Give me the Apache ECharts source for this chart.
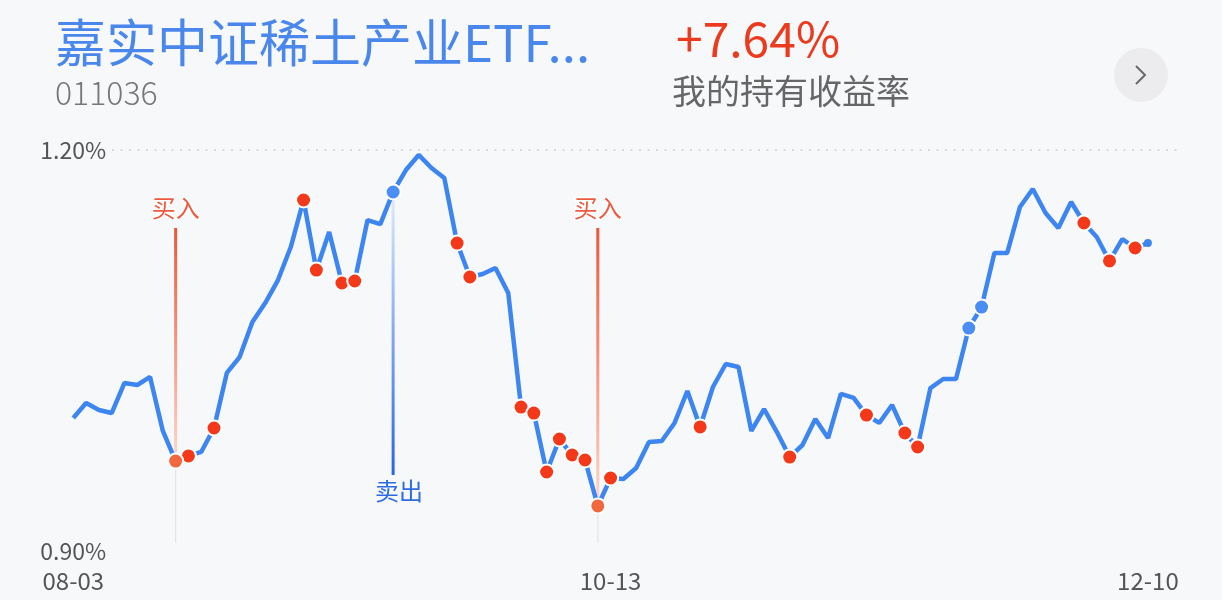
<!DOCTYPE html>
<html>
<head>
<meta charset="utf-8">
<script src="https://cdn.jsdelivr.net/npm/echarts@6/dist/echarts.min.js"></script>
<style>
html,body{margin:0;padding:0;background:#f7f8fa;}
#main{width:1222px;height:600px;}
</style>
</head>
<body>
<div id="main"></div>
<script>
// ---- data ----
const fundName = '嘉实中证稀土产业ETF...';
const fundCode = '011036';
const holdReturn = '+7.64%';
const holdReturnLabel = '我的持有收益率';

const dates = [
  '08-03','08-05','08-06','08-09','08-10','08-11','08-12','08-13','08-16','08-17',
  '08-18','08-19','08-20','08-23','08-24','08-25','08-26','08-27','08-30','08-31',
  '09-01','09-02','09-03','09-06','09-07','09-08','09-09','09-10','09-13','09-14',
  '09-15','09-16','09-17','09-22','09-23','09-24','09-27','09-28','09-30','10-08',
  '10-11','10-12','10-13','10-14','10-15','10-18','10-19','10-20','10-21','10-22',
  '10-25','10-26','10-27','10-28','10-29','11-01','11-02','11-03','11-04','11-05',
  '11-08','11-09','11-10','11-11','11-12','11-15','11-16','11-17','11-18','11-19',
  '11-22','11-23','11-24','11-25','11-26','11-29','11-30','12-01','12-02','12-03',
  '12-06','12-07','12-08','12-09','12-10'
];

const values = [
  0.9995,1.0107,1.0055,1.0032,1.0257,1.0242,1.0302,0.9898,0.9673,0.9711,
  0.9741,0.9920,1.0332,1.0451,1.0713,1.0855,1.1027,1.1274,1.1626,1.1102,
  1.1387,1.1005,1.1020,1.1476,1.1446,1.1686,1.1850,1.1963,1.1865,1.1791,
  1.1304,1.1050,1.1072,1.1117,1.0930,1.0077,1.0032,0.9591,0.9838,0.9718,
  0.9681,0.9337,0.9546,0.9539,0.9621,0.9815,0.9823,0.9958,1.0197,0.9928,
  1.0227,1.0399,1.0377,0.9898,1.0062,0.9890,0.9703,0.9793,0.9988,0.9845,
  1.0175,1.0145,1.0017,0.9958,1.0092,0.9883,0.9778,1.0219,1.0287,1.0287,
  1.0668,1.0825,1.1229,1.1229,1.1574,1.1708,1.1529,1.1416,1.1611,1.1454,
  1.1349,1.1170,1.1334,1.1267,1.1304
];

const redDotIdx = [9,11,18,19,21,22,30,31,35,36,37,38,39,40,42,49,56,62,65,66,79,81,83];
const blueDotIdx = [70,71];
const lastDotIdx = [84];
const buyIdx = [8,41];
const sellIdx = [25];

const yMin = 0.90, yMax = 1.20;
const xLabelIdx = [0,42,84];

// ---- chart ----
const chart = echarts.init(document.getElementById('main'));
const CJK = '"Noto Sans CJK SC", "Noto Sans", sans-serif';

function pts(idxs){ return idxs.map(i => [i, values[i]]); }
const markerData = buyIdx.map(i => [i, values[i], 0]).concat(sellIdx.map(i => [i, values[i], 1]));

const option = {
  backgroundColor: '#f7f8fa',
  animation: false,
  grid: { left: 73.3, right: 74.1, top: 150, bottom: 49, containLabel: false },
  xAxis: {
    type: 'category',
    data: dates,
    boundaryGap: false,
    axisLine: { show: false },
    axisTick: { show: false },
    axisLabel: {
      interval: (idx) => xLabelIdx.includes(idx),
      showMinLabel: true, showMaxLabel: true,
      color: '#555', fontSize: 24, fontFamily: CJK, margin: 18
    },
    splitLine: { show: false }
  },
  yAxis: {
    type: 'value',
    min: yMin, max: yMax, interval: 0.30,
    axisLine: { show: false }, axisTick: { show: false },
    splitLine: { show: false },
    axisLabel: {
      inside: true, margin: -33, align: 'left', verticalAlign: 'middle',
      color: '#555', fontSize: 23, fontFamily: CJK,
      formatter: (v) => v.toFixed(2) + '%'
    }
  },
  series: [
    {
      type: 'custom',
      z: 1,
      data: markerData,
      renderItem: function (params, api) {
        const idx = api.value(0), v = api.value(1), kind = api.value(2);
        const p = api.coord([idx, v]);
        const cs = params.coordSys;
        if (kind === 0) {
          const top = cs.y + 78;
          return { type: 'group', children: [
            { type: 'line', shape: { x1: p[0], y1: p[1], x2: p[0], y2: cs.y + cs.height - 8 },
              style: { stroke: 'rgba(215,205,205,0.55)', lineWidth: 1 } },
            { type: 'line', shape: { x1: p[0], y1: top, x2: p[0], y2: p[1] },
              style: { lineWidth: 3, stroke: new echarts.graphic.LinearGradient(p[0], top, p[0], p[1],
                [{ offset: 0, color: '#ee5536' }, { offset: 1, color: '#fcd8cc' }], true) } },
            { type: 'text', style: { text: '买入', x: p[0], y: top - 20, align: 'center', verticalAlign: 'middle',
              fill: '#ec5a3f', font: '24px ' + CJK, stroke: '#ffffff', lineWidth: 3 } }
          ]};
        } else {
          const bottom = cs.y + cs.height - 76;
          return { type: 'group', children: [
            { type: 'line', shape: { x1: p[0], y1: p[1], x2: p[0], y2: bottom },
              style: { lineWidth: 3, stroke: new echarts.graphic.LinearGradient(p[0], p[1], p[0], bottom,
                [{ offset: 0, color: '#e3ecfb' }, { offset: 1, color: '#2566e8' }], true) } },
            { type: 'text', style: { text: '卖出', x: p[0] + 6, y: bottom + 16, align: 'center', verticalAlign: 'middle',
              fill: '#2e6be0', font: '24px ' + CJK } }
          ]};
        }
      }
    },
    {
      type: 'line',
      z: 3,
      data: values,
      symbol: 'none',
      lineStyle: { color: '#3d86f2', width: 4.5 },
      emphasis: { disabled: true }
    },
    {
      type: 'scatter', z: 4, data: pts(redDotIdx), symbolSize: 15,
      itemStyle: { color: '#f3391a', borderColor: '#ffffff', borderWidth: 2, opacity: 1 }
    },
    {
      type: 'scatter', z: 4, data: pts(buyIdx), symbolSize: 15,
      itemStyle: { color: '#f1683f', borderColor: '#ffffff', borderWidth: 2, opacity: 1 }
    },
    {
      type: 'scatter', z: 4, data: pts(sellIdx).concat(pts(blueDotIdx)), symbolSize: 15,
      itemStyle: { color: '#4a8ef5', borderColor: '#ffffff', borderWidth: 2, opacity: 1 }
    },
    {
      type: 'scatter', z: 4, data: pts(lastDotIdx), symbolSize: 8,
      itemStyle: { color: '#3d86f2', opacity: 1 }
    }
  ]
};
chart.setOption(option);

const topY = chart.convertToPixel({ yAxisIndex: 0 }, yMax);
chart.setOption({
  graphic: [
    { type: 'line', z: 0, shape: { x1: 112, y1: topY, x2: 1180, y2: topY },
      style: { stroke: '#cfcfd3', lineWidth: 1.5, lineDash: [2, 6.5] } },
    { type: 'text', left: 55, top: 17, style: { text: fundName, fill: '#4a87ec', font: '51px ' + CJK } },
    { type: 'text', left: 55, top: 77, style: { text: fundCode, fill: '#777777', font: '300 32px ' + CJK } },
    { type: 'text', left: 676, top: 15, style: { text: holdReturn, fill: '#ec3a1e', font: '48px ' + CJK } },
    { type: 'text', left: 672, top: 74, style: { text: holdReturnLabel, fill: '#666666', font: '34px ' + CJK } },
    { type: 'circle', shape: { cx: 1141, cy: 75, r: 27 }, style: { fill: '#ececee' } },
    { type: 'polyline', shape: { points: [[1136, 66], [1145, 75], [1136, 84]] },
      style: { stroke: '#6a6a6a', lineWidth: 2, fill: null } }
  ]
});
</script>
</body>
</html>
